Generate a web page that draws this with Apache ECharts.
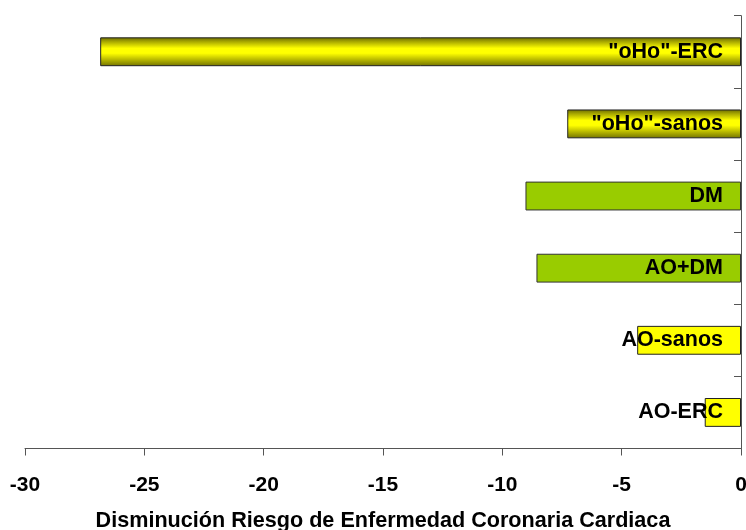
<!DOCTYPE html>
<html>
<head>
<meta charset="utf-8">
<script src="https://cdn.jsdelivr.net/npm/echarts@6/dist/echarts.min.js"></script>
<style>html,body{margin:0;padding:0;background:#fff}#c{width:746px;height:530px}</style>
</head>
<body>
<div id="c"></div>
<script>
// bottom-to-top order
var categories = ['AO-ERC', 'AO-sanos', 'AO+DM', 'DM', '"oHo"-sanos', '"oHo"-ERC'];
var values = [-1.52, -4.35, -8.57, -9.03, -7.28, -26.85];
var groups = ['AO', 'AO', 'DM', 'DM', 'oHo', 'oHo'];
var xTicks = { min: -30, max: 0, interval: 5 };
var axisTitle = 'Disminución Riesgo de Enfermedad Coronaria Cardiaca';

var goldGradient = new echarts.graphic.LinearGradient(0, 0, 0, 1, [
  { offset: 0, color: '#6b6b00' },
  { offset: 0.15, color: '#a8a800' },
  { offset: 0.38, color: '#ffff00' },
  { offset: 0.55, color: '#ffff00' },
  { offset: 0.85, color: '#a0a000' },
  { offset: 1, color: '#727200' }
]);
var styleFor = {
  AO: { color: '#ffff00', borderColor: '#222', borderWidth: 1 },
  DM: { color: '#99cc00', borderColor: '#333', borderWidth: 1 },
  oHo: { color: goldGradient, borderColor: '#222', borderWidth: 1 }
};

var seriesData = values.map(function (v, i) {
  return { value: v, itemStyle: styleFor[groups[i]] };
});

var chart = echarts.init(document.getElementById('c'), null, { renderer: 'canvas' });
chart.setOption({
  animation: false,
  textStyle: { fontFamily: 'Liberation Sans, Arial, sans-serif' },
  grid: { left: 25, right: 5, top: 15.7, bottom: 81.5, containLabel: false, outerBoundsMode: 'none' },
  xAxis: {
    type: 'value',
    min: xTicks.min, max: xTicks.max, interval: xTicks.interval,
    splitLine: { show: false },
    axisLine: { show: true, onZero: false, lineStyle: { color: '#555', width: 1 } },
    axisTick: { show: true, length: 7, lineStyle: { color: '#555' } },
    axisLabel: { color: '#000', fontWeight: 'bold', fontSize: 21, margin: 26, fontFamily: 'Liberation Sans' },
    name: axisTitle,
    nameLocation: 'middle',
    nameGap: 62,
    nameTextStyle: { color: '#000', fontWeight: 'bold', fontSize: 21.6, fontFamily: 'Liberation Sans' }
  },
  yAxis: {
    type: 'category',
    data: categories,
    position: 'right',
    axisLine: { show: true, onZero: false, lineStyle: { color: '#555', width: 1 } },
    axisTick: { show: true, inside: true, length: 7, lineStyle: { color: '#555' } },
    axisLabel: { show: false },
    splitLine: { show: false }
  },
  series: [{
    type: 'bar',
    data: seriesData,
    barWidth: '40%',
    label: {
      show: true,
      position: 'insideRight',
      distance: 18,
      formatter: '{b}',
      color: '#000',
      fontWeight: 'bold',
      fontSize: 21.5,
      fontFamily: 'Liberation Sans'
    }
  }]
});
</script>
</body>
</html>
